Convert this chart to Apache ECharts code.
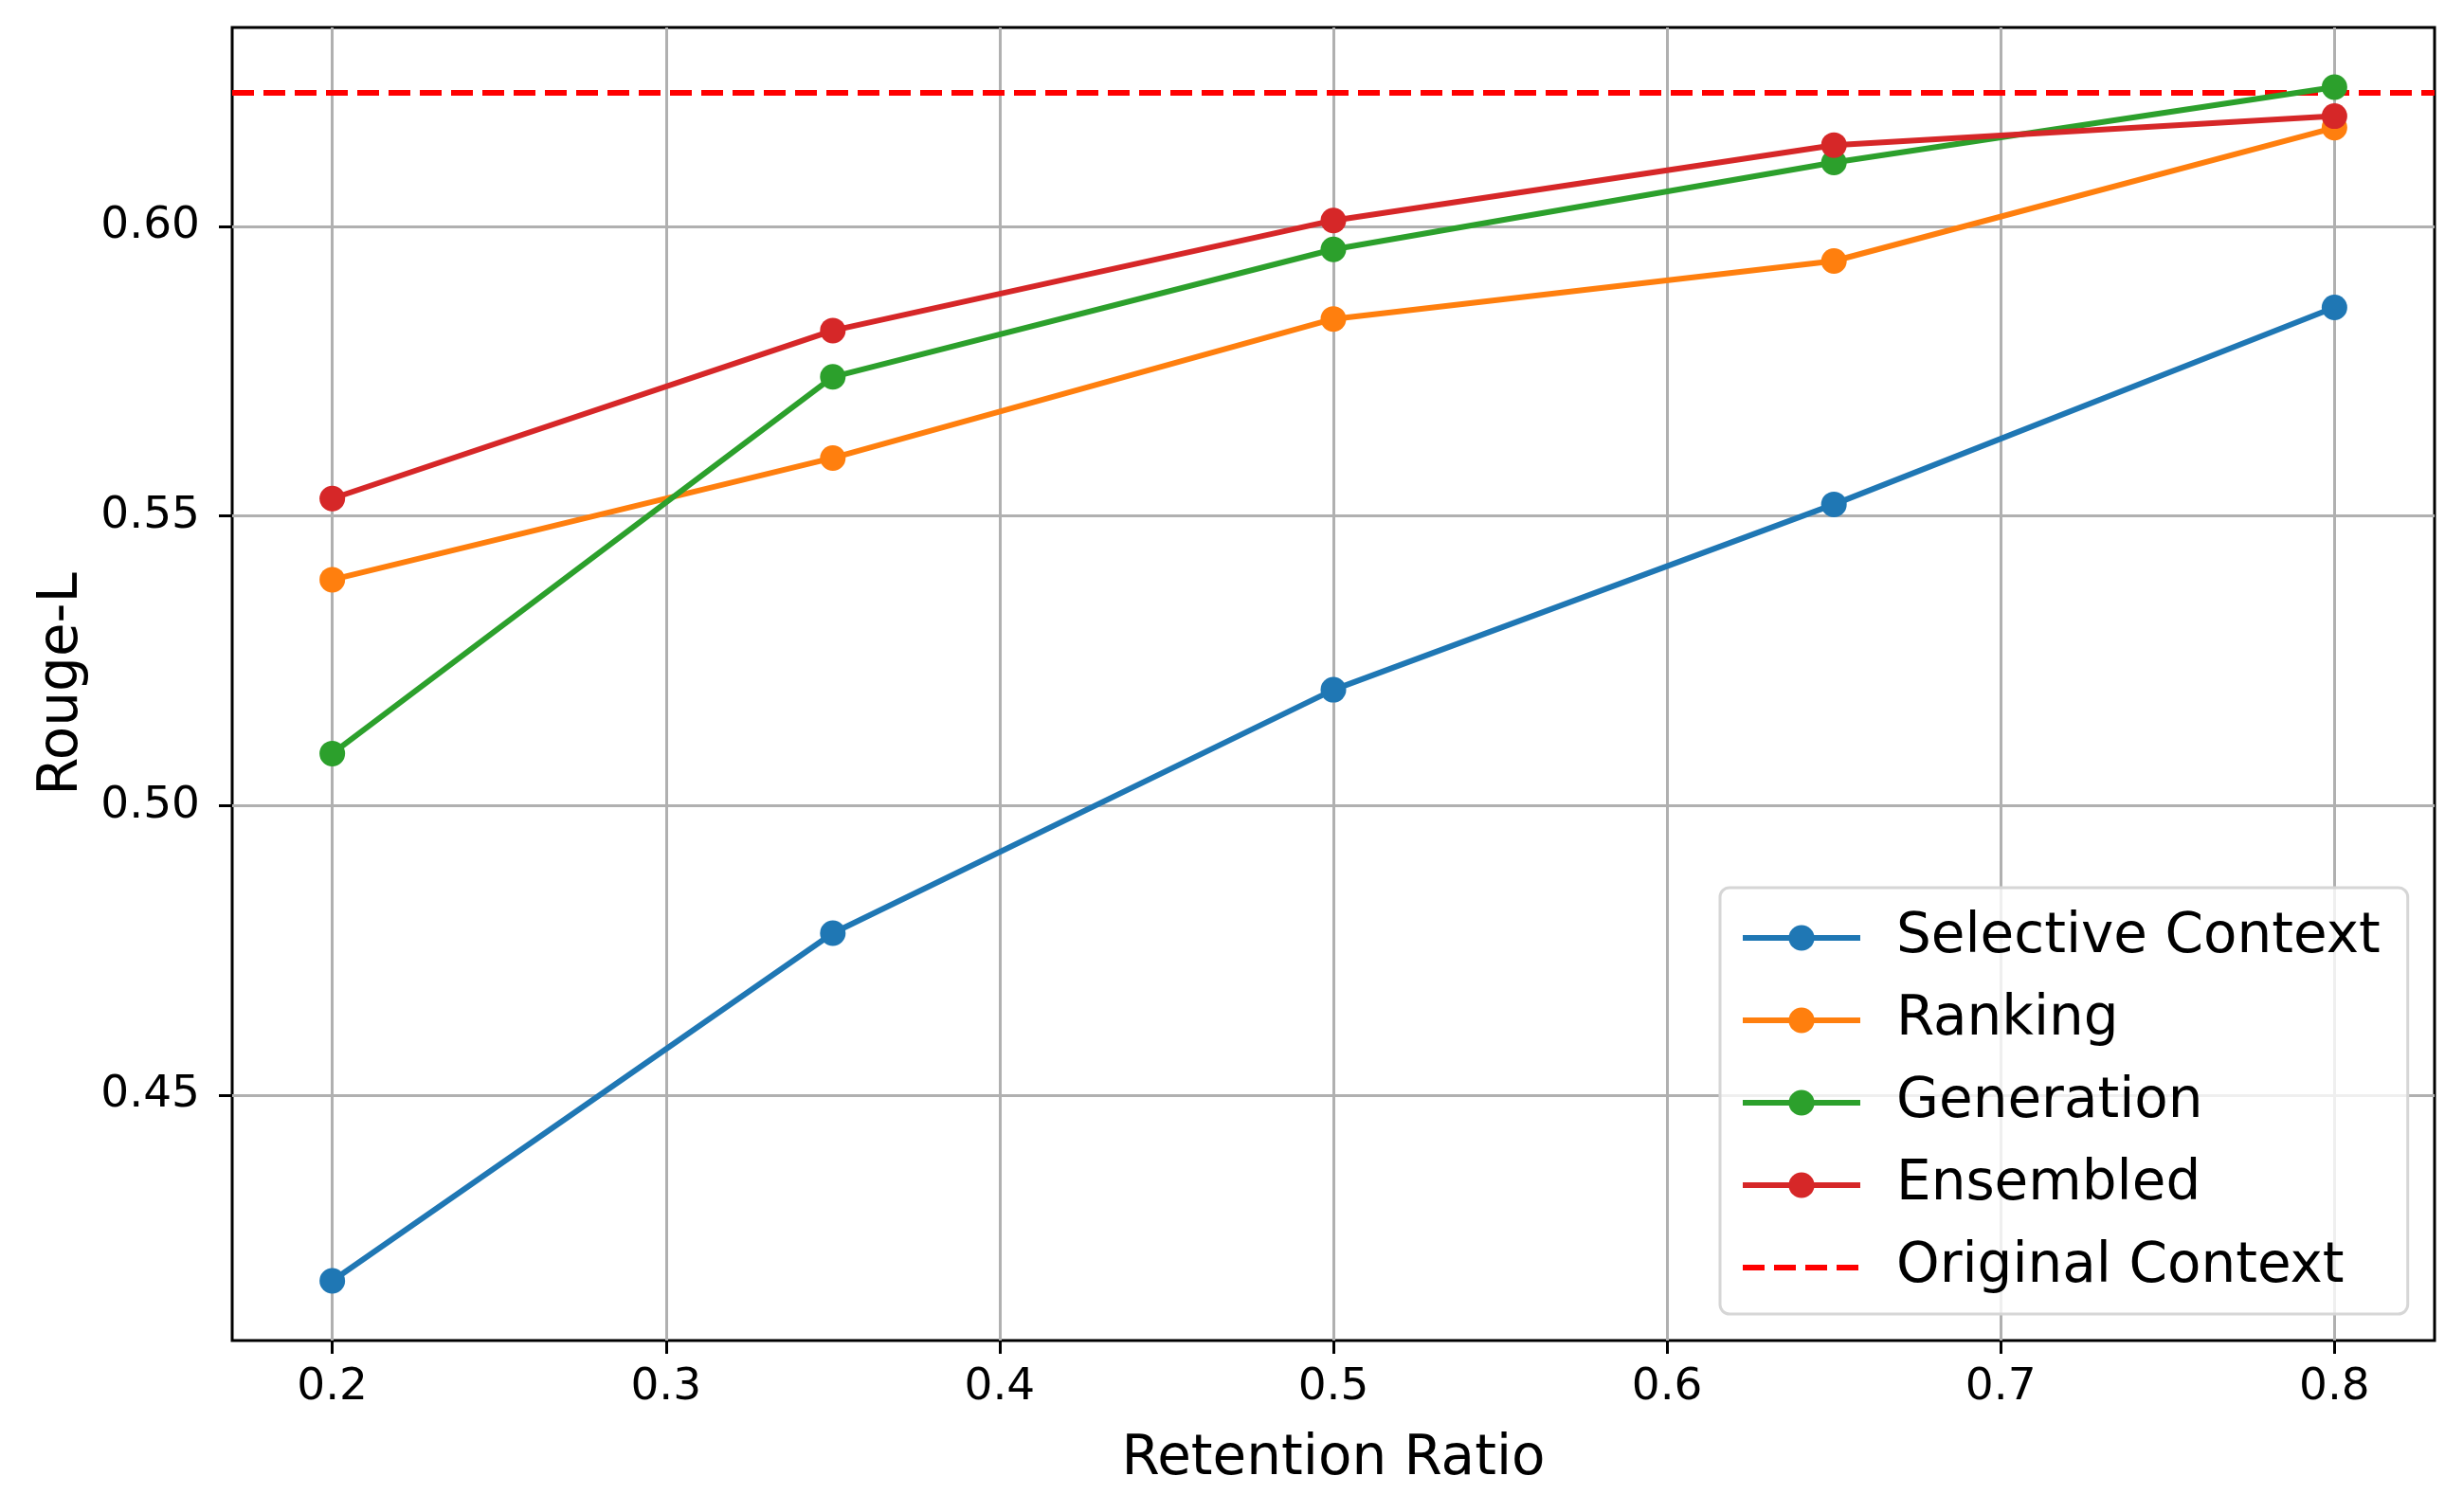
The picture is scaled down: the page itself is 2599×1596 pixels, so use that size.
<!DOCTYPE html>
<html>
<head>
<meta charset="utf-8">
<script src="https://cdn.jsdelivr.net/npm/echarts@6/dist/echarts.min.js"></script>
<style>
html,body{margin:0;padding:0;background:#fff;}
#chart{width:2599px;height:1596px;}
</style>
</head>
<body>
<div id="chart"></div>
<script>
// ---- data ----
const retentionRatios = [0.2, 0.35, 0.5, 0.65, 0.8];
const selectiveContext = [0.418, 0.478, 0.520, 0.552, 0.586];
const ranking = [0.539, 0.560, 0.584, 0.594, 0.617];
const generation = [0.509, 0.574, 0.596, 0.611, 0.624];
const ensembled = [0.553, 0.582, 0.601, 0.614, 0.619];
const originalContext = 0.623;
const seriesNames = ['Selective Context', 'Ranking', 'Generation', 'Ensembled', 'Original Context'];
const xTickValues = [0.2, 0.3, 0.4, 0.5, 0.6, 0.7, 0.8];
const yTickValues = [0.45, 0.50, 0.55, 0.60];
const xLimits = [0.17, 0.83];
const yLimits = [0.4077, 0.6343];

const colors = ['#1f77b4', '#ff7f0e', '#2ca02c', '#d62728'];
const FONT = 'DejaVu Sans';

function pairs(ys) { return retentionRatios.map((x, i) => [x, ys[i]]); }

const lineSeries = [selectiveContext, ranking, generation, ensembled].map((ys, i) => ({
  name: seriesNames[i],
  type: 'line',
  data: pairs(ys),
  symbol: 'circle',
  symbolSize: 27,
  showSymbol: true,
  color: colors[i],
  lineStyle: { color: colors[i], width: 6 },
  itemStyle: { color: colors[i] },
  z: 3 + i,
  animation: false
}));

lineSeries.push({
  name: seriesNames[4],
  type: 'line',
  data: [],
  symbol: 'none',
  color: '#ff0000',
  lineStyle: { color: '#ff0000', width: 6, type: [23, 10] },
  itemStyle: { color: '#ff0000' },
  z: 8,
  animation: false,
  markLine: {
    silent: true,
    symbol: 'none',
    precision: 6,
    label: { show: false },
    lineStyle: { color: '#ff0000', width: 6, type: [23, 10] },
    data: [{ yAxis: originalContext }],
    animation: false
  }
});

const chart = echarts.init(document.getElementById('chart'));
chart.setOption({
  animation: false,
  backgroundColor: '#ffffff',
  grid: {
    left: 245, right: 30, top: 29, bottom: 181,
    show: true, borderColor: '#000000', borderWidth: 3, backgroundColor: 'transparent'
  },
  legend: {
    orient: 'vertical',
    left: 1815, top: 937,
    itemWidth: 124, itemHeight: 34, itemGap: 29,
    padding: [24, 29, 20, 21],
    backgroundColor: 'rgba(255,255,255,0.8)',
    borderColor: '#d6d6d6', borderWidth: 3, borderRadius: 10,
    lineStyle: { width: 6 },
    textStyle: { fontFamily: FONT, fontSize: 58, color: '#000', padding: [0, 0, 0, 33] },
    data: seriesNames.map((n, i) => i === 4 ? { name: n, itemStyle: { opacity: 0 } } : { name: n }),
    z: 20
  },
  xAxis: {
    type: 'value',
    min: xLimits[0], max: xLimits[1],
    name: 'Retention Ratio',
    nameLocation: 'middle',
    nameGap: 97,
    nameTextStyle: { fontFamily: FONT, fontSize: 58, color: '#000' },
    axisLine: { show: false },
    axisTick: { show: true, inside: false, length: 14, lineStyle: { color: '#000', width: 3 }, customValues: xTickValues },
    axisLabel: { fontFamily: FONT, fontSize: 47, color: '#000', margin: 26, customValues: xTickValues, formatter: v => String(Math.round(v * 10) / 10) },
    splitLine: { show: true, lineStyle: { color: '#b0b0b0', width: 3 } }
  },
  yAxis: {
    type: 'value',
    min: yLimits[0], max: yLimits[1],
    name: 'Rouge-L',
    nameLocation: 'middle',
    nameGap: 150,
    nameTextStyle: { fontFamily: FONT, fontSize: 58, color: '#000' },
    axisLine: { show: false },
    axisTick: { show: true, inside: false, length: 14, lineStyle: { color: '#000', width: 3 }, customValues: yTickValues },
    axisLabel: { fontFamily: FONT, fontSize: 47, color: '#000', margin: 34, customValues: yTickValues, formatter: v => v.toFixed(2) },
    splitLine: { show: true, lineStyle: { color: '#b0b0b0', width: 3 } }
  },
  series: lineSeries
});
</script>
</body>
</html>
